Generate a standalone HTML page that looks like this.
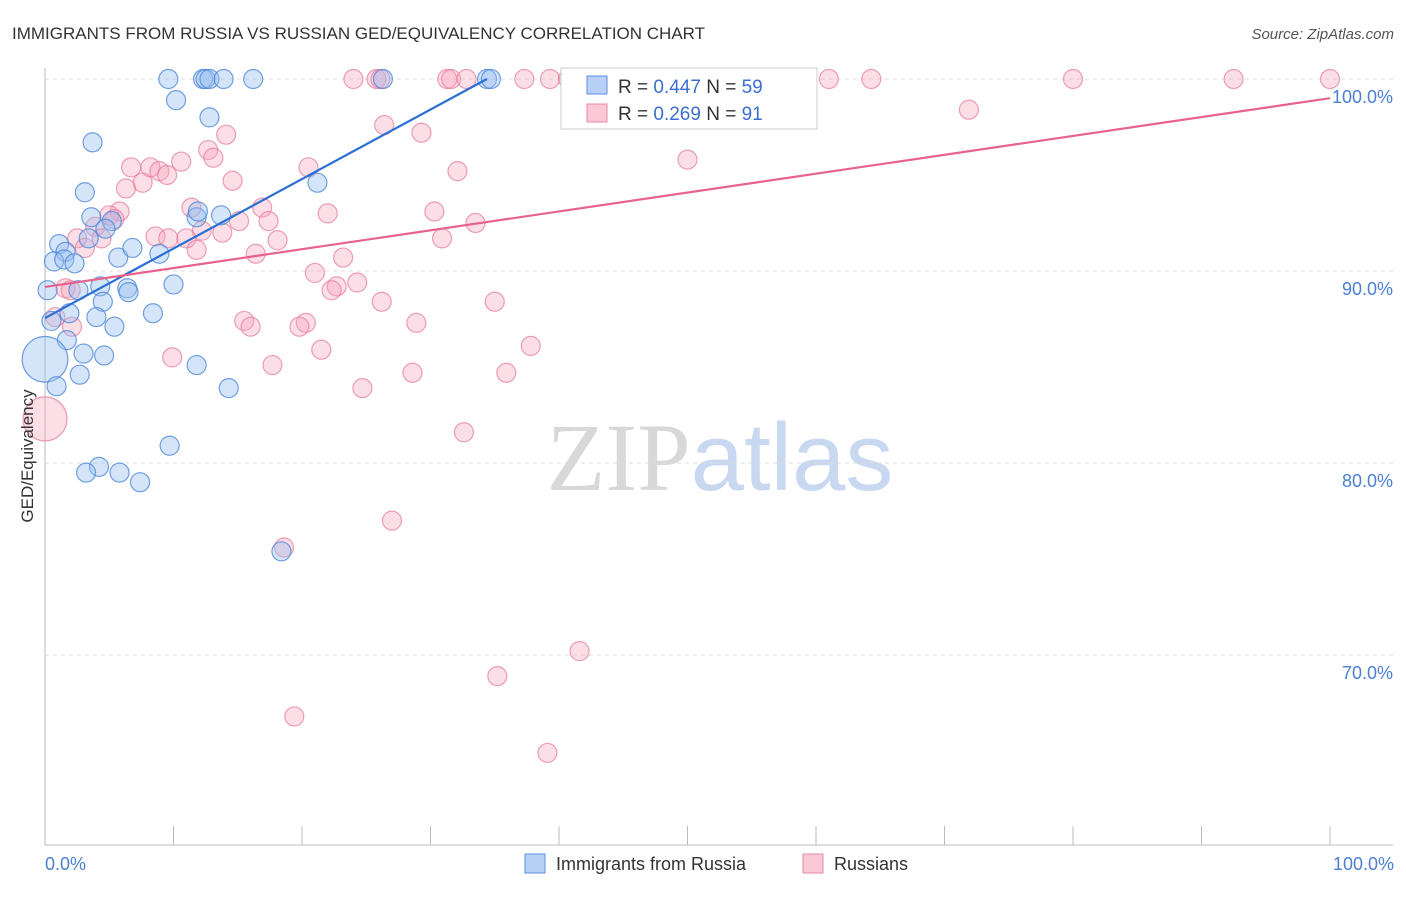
<!DOCTYPE html>
<html><head><meta charset="utf-8"><style>
body{margin:0;background:#fff;font-family:"Liberation Sans",sans-serif;}
svg text{font-family:"Liberation Sans",sans-serif;}
</style></head><body>
<svg id="chart" width="1406" height="892" xmlns="http://www.w3.org/2000/svg">
<text x="12" y="39" font-size="17" fill="#333">IMMIGRANTS FROM RUSSIA VS RUSSIAN GED/EQUIVALENCY CORRELATION CHART</text>
<text x="1394" y="39" font-size="15" fill="#555" text-anchor="end" font-style="italic">Source: ZipAtlas.com</text>
<text x="720" y="490" font-size="96" text-anchor="middle"><tspan fill="#d8d8d8" font-family="Liberation Serif">ZIP</tspan><tspan fill="#c8d8f0">atlas</tspan></text>
<g id="grid"></g>
<g id="axes"></g>
<g id="pink"></g>
<g id="blue"></g>
<g id="trends"></g>
<text transform="translate(33,456) rotate(-90)" font-size="17" fill="#333" text-anchor="middle">GED/Equivalency</text>
<text x="45" y="870" font-size="18" fill="#4a7fd4">0.0%</text>
<text x="1394" y="870" font-size="18" fill="#4a7fd4" text-anchor="end">100.0%</text>
<g>
<rect x="561" y="68" width="256" height="61" fill="#fff" stroke="#ccc"/>
<rect x="587" y="76" width="20" height="18" fill="#b8d0f5" stroke="#5b8fe0"/>
<text x="618" y="93" font-size="19" fill="#333">R = <tspan fill="#3a6fd0">0.447</tspan>   N = <tspan fill="#3a6fd0">59</tspan></text>
<rect x="587" y="104" width="20" height="18" fill="#fac8d6" stroke="#e88aa8"/>
<text x="618" y="120" font-size="19" fill="#333">R = <tspan fill="#3a6fd0">0.269</tspan>   N = <tspan fill="#3a6fd0"> 91</tspan></text>
</g>
<g>
<rect x="525" y="854" width="20" height="19" fill="#b8d0f5" stroke="#5b8fe0"/>
<text x="556" y="870" font-size="18" fill="#333">Immigrants from Russia</text>
<rect x="803" y="854" width="20" height="19" fill="#fac8d6" stroke="#e88aa8"/>
<text x="834" y="870" font-size="18" fill="#333">Russians</text>
</g>
</svg>
<script>
const yTicks=[70,80,90,100];
const yTickLabels=["70.0%","80.0%","90.0%","100.0%"];
const xTicks=[0,10,20,30,40,50,60,70,80,90,100];
const blueX=[9.6,12.3,12.5,12.8,13.9,16.2,26.3,34.4,34.7,10.2,12.8,3.7,21.2,3.1,3.6,11.8,13.7,11.9,5.2,4.7,3.4,1.1,1.6,0.7,1.5,2.3,5.7,8.9,6.8,0.2,2.6,4.3,6.4,10.0,4.5,6.5,8.4,4.0,1.9,5.4,1.7,3.0,4.6,0,2.7,0.9,11.8,14.3,9.7,4.2,3.2,5.8,7.4,18.4,0.5];
const blueY=[100,100,100,100,100,100,100,100,100,98.9,98.0,96.7,94.6,94.1,92.8,92.8,92.9,93.1,92.6,92.2,91.7,91.4,91.0,90.5,90.6,90.4,90.7,90.9,91.2,89.0,89.0,89.2,89.1,89.3,88.4,88.9,87.8,87.6,87.8,87.1,86.4,85.7,85.6,85.4,84.6,84.0,85.1,83.9,80.9,79.8,79.5,79.5,79.0,75.4,87.4];
const blueSize=[1,1,1,1,1,1,1,1,1,1,1,1,1,1,1,1,1,1,1,1,1,1,1,1,1,1,1,1,1,1,1,1,1,1,1,1,1,1,1,1,1,1,1,2.4,1,1,1,1,1,1,1,1,1,1,1];
const pinkX=[24.0,25.8,26.1,31.3,31.6,32.8,37.3,39.3,40.7,46.9,52.1,52.5,59.2,61.0,64.3,80.0,92.5,100,71.9,26.4,29.3,14.1,12.7,13.1,50.0,10.6,6.7,8.2,20.5,8.9,9.5,32.1,7.6,14.6,6.3,11.4,16.9,30.3,5.8,22.0,5.0,5.4,17.4,15.1,33.5,3.9,12.2,13.8,8.6,9.6,2.5,4.4,11.0,30.9,18.1,3.1,11.8,16.4,23.2,21.0,24.3,22.7,22.3,1.6,2.0,26.2,35.0,15.5,16.0,20.3,19.8,28.9,0.8,2.1,21.5,37.8,9.9,17.7,28.6,35.9,24.7,0,32.6,27.0,18.6,41.6,35.2,19.4,39.1];
const pinkY=[100,100,100,100,100,100,100,100,100,100,100,100,100,100,100,100,100,100,98.4,97.6,97.2,97.1,96.3,95.9,95.8,95.7,95.4,95.4,95.4,95.2,95.0,95.2,94.6,94.7,94.3,93.3,93.3,93.1,93.1,93.0,92.9,92.7,92.6,92.6,92.5,92.3,92.1,92.0,91.8,91.7,91.7,91.7,91.7,91.7,91.6,91.2,91.1,90.9,90.7,89.9,89.4,89.2,89.0,89.1,89.0,88.4,88.4,87.4,87.1,87.3,87.1,87.3,87.6,87.1,85.9,86.1,85.5,85.1,84.7,84.7,83.9,82.3,81.6,77.0,75.6,70.2,68.9,66.8,64.9];
const blueTrend=[87.55,0.362];
const pinkTrend=[89.17,0.0983];
const X0=45,X1=1330,YTOP=79,YPX=19.2,YMAX=100;
const sx=v=>X0+(X1-X0)*v/100;
const sy=v=>YTOP+(YMAX-v)*YPX;
const NS="http://www.w3.org/2000/svg";
function mk(tag,attrs,parent){const e=document.createElementNS(NS,tag);for(const k in attrs)e.setAttribute(k,attrs[k]);parent.appendChild(e);return e;}
const grid=document.getElementById('grid'),axes=document.getElementById('axes');
yTicks.forEach((t,i)=>{
 const l=mk('line',{x1:45,x2:1393,y1:sy(t),y2:sy(t),stroke:'#ddd','stroke-dasharray':'4,4'},grid);
 
 
 const tx=mk('text',{x:1393,y:sy(t)+24,'font-size':18,fill:'#4a7fd4','text-anchor':'end'},grid);
 tx.textContent=yTickLabels[i];
 
 
});
const la=mk('line',{x1:45,x2:45,y1:68,y2:845,stroke:'#bbb'},axes);


const ba=mk('line',{x1:45,x2:1393,y1:845,y2:845,stroke:'#bbb'},axes);


xTicks.forEach(t=>{
 const l=mk('line',{x1:sx(t),x2:sx(t),y1:826,y2:845,stroke:'#bbb'},axes);
 
 
});
const pg=document.getElementById('pink'),bg=document.getElementById('blue');
pinkX.forEach((x,i)=>{
 const c=mk('circle',{cx:sx(x),cy:sy(pinkY[i]),r:pinkY[i]===82.3?22:9.5,fill:'rgba(245,160,185,0.35)',stroke:'rgba(230,120,155,0.7)','stroke-width':1.2},pg);
 
 
});
blueX.forEach((x,i)=>{
 const c=mk('circle',{cx:sx(x),cy:sy(blueY[i]),r:9.5*blueSize[i],fill:'rgba(150,190,240,0.4)',stroke:'rgba(70,130,215,0.75)','stroke-width':1.2},bg);
 
 
});
const tg=document.getElementById('trends');
const bEnd=(100-blueTrend[0])/blueTrend[1];
const bl=mk('line',{x1:sx(0),y1:sy(blueTrend[0]),x2:sx(bEnd),y2:sy(100),stroke:'#2a6fd6','stroke-width':2.2},tg);


const pl=mk('line',{x1:sx(0),y1:sy(pinkTrend[0]),x2:sx(100),y2:sy(pinkTrend[0]+100*pinkTrend[1]),stroke:'#e8628f','stroke-width':2.2},tg);


</script>
</body></html>
